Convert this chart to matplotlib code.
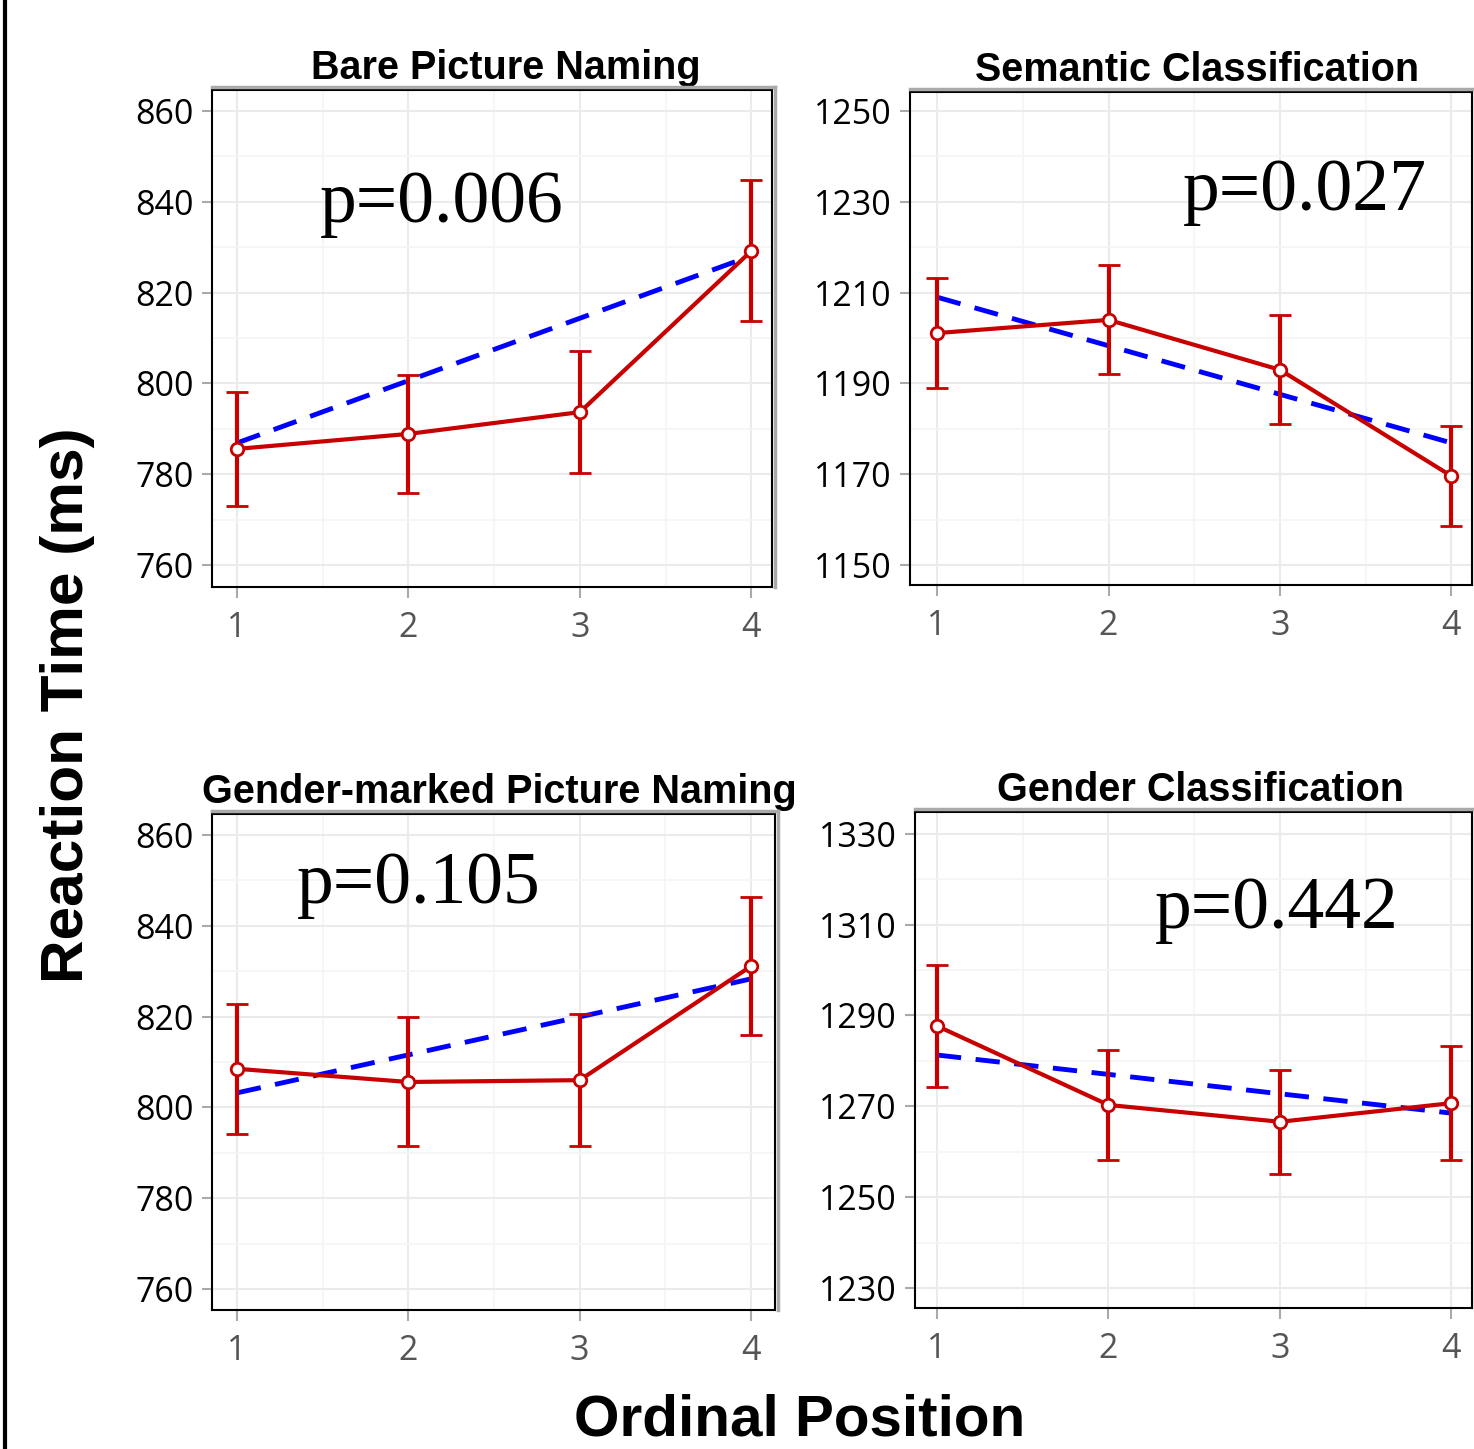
import numpy as np
import matplotlib.pyplot as plt
from matplotlib.lines import Line2D
from matplotlib.ticker import MultipleLocator

# ordinal positions on the x axis
positions = [1, 2, 3, 4]

titles = ['Bare Picture Naming', 'Semantic Classification',
          'Gender-marked Picture Naming', 'Gender Classification']
p_labels = ['p=0.006', 'p=0.027', 'p=0.105', 'p=0.442']

# mean reaction times and error bar half-widths
bare_mean = [785.6, 788.9, 793.7, 829.2]
bare_err = [12.5, 12.9, 13.4, 15.5]
sem_mean = [1201.1, 1204.0, 1193.0, 1169.6]
sem_err = [12.1, 12.0, 12.0, 11.1]
gmark_mean = [808.5, 805.6, 806.0, 831.1]
gmark_err = [14.3, 14.2, 14.6, 15.2]
gcls_mean = [1287.7, 1270.3, 1266.6, 1270.7]
gcls_err = [13.4, 12.1, 11.5, 12.5]

# linear trend: value at position 1 and at position 4
bare_trend = [786.9, 828.1]
sem_trend = [1209.0, 1176.9]
gmark_trend = [803.2, 828.3]
gcls_trend = [1281.3, 1268.5]

yticks_bare = [760, 780, 800, 820, 840, 860]
yticks_sem = [1150, 1170, 1190, 1210, 1230, 1250]
yticks_gmark = [760, 780, 800, 820, 840, 860]
yticks_gcls = [1230, 1250, 1270, 1290, 1310, 1330]

W, H = 1474, 1449
fig = plt.figure(figsize=(W / 100, H / 100), dpi=100)

# pixel boxes (left, top, right, bottom) of each panel
boxes = [(212, 90, 772, 587), (910, 92, 1472, 585),
         (212, 814, 775, 1310), (915, 812, 1472, 1308)]
xlims = [(0.854, 4.12), (0.842, 4.12), (0.854, 4.14), (0.872, 4.12)]
ylims = [(755.2, 864.6), (1145.6, 1254.2), (755.4, 864.6), (1225.6, 1334.8)]
ptext = [(0.193, 0.734), (0.486, 0.761), (0.151, 0.821), (0.431, 0.766)]
title_x = [0.525, 0.51, 0.51, 0.512]

means = [bare_mean, sem_mean, gmark_mean, gcls_mean]
errs = [bare_err, sem_err, gmark_err, gcls_err]
trends = [bare_trend, sem_trend, gmark_trend, gcls_trend]
yticks = [yticks_bare, yticks_sem, yticks_gmark, yticks_gcls]

red = '#c80000'
for i in range(4):
    l, t, r, b = boxes[i]
    ax = fig.add_axes([l / W, 1 - b / H, (r - l) / W, (b - t) / H])
    ax.set_xlim(*xlims[i])
    ax.set_ylim(*ylims[i])
    ax.set_xticks(positions)
    ax.set_yticks(yticks[i])
    ax.xaxis.set_minor_locator(MultipleLocator(0.5))
    ax.yaxis.set_minor_locator(MultipleLocator(10))
    ax.grid(True, which='major', color='#ebebeb', lw=1.5, zorder=0)
    ax.grid(True, which='minor', color='#f5f5f5', lw=1.2, zorder=0)
    ax.set_axisbelow(True)
    ax.tick_params(which='minor', length=0)
    ax.tick_params(axis='y', which='major', length=7, width=1.5, color='#aaaaaa',
                   labelsize=24.5, labelcolor='black', pad=6)
    ax.tick_params(axis='x', which='major', length=8, width=1.5, color='#aaaaaa',
                   labelsize=24.5, labelcolor='#555555', pad=9)
    for lab in ax.get_xticklabels() + ax.get_yticklabels():
        lab.set_fontfamily('Open Sans')
    for s in ax.spines.values():
        s.set_color('black')
        s.set_linewidth(1.5)

    ax.plot([positions[0], positions[-1]], trends[i], color='#0000ff', lw=3.5,
            dashes=(5, 3), zorder=2)
    ax.errorbar(positions, means[i], yerr=errs[i], color=red, lw=3, elinewidth=3,
                capsize=8, capthick=3, marker='o', ms=9, mfc='white', mec=red,
                mew=2, zorder=3)
    ax.set_title(titles[i], fontsize=28.5, fontweight='bold',
                 family='Liberation Sans', pad=8, x=title_x[i])
    ax.text(ptext[i][0], ptext[i][1], p_labels[i], transform=ax.transAxes,
            family='Liberation Serif', fontsize=53, ha='left', va='baseline')

    # grey shadow along the top and right edge of the frame
    x0, x1 = l / W, (r + 3) / W
    y0, y1 = 1 - b / H, 1 - (t - 3) / H
    fig.add_artist(Line2D([x0, x1], [y1, y1], color='#aaaaaa', lw=2.5))
    fig.add_artist(Line2D([x1, x1], [y0, y1], color='#aaaaaa', lw=2.5))

fig.text(68 / W, 1 - 705 / H, 'Reaction Time (ms)', rotation=90, fontsize=43.5,
         fontweight='bold', family='Liberation Sans', ha='center', va='center')
fig.text(800 / W, 1 - 1435 / H, 'Ordinal Position', fontsize=42,
         fontweight='bold', family='Liberation Sans', ha='center', va='baseline')

# black rule along the left edge
fig.add_artist(Line2D([5 / W, 5 / W], [0, 1], color='black', lw=3))

fig.savefig('out.png', dpi=100)
